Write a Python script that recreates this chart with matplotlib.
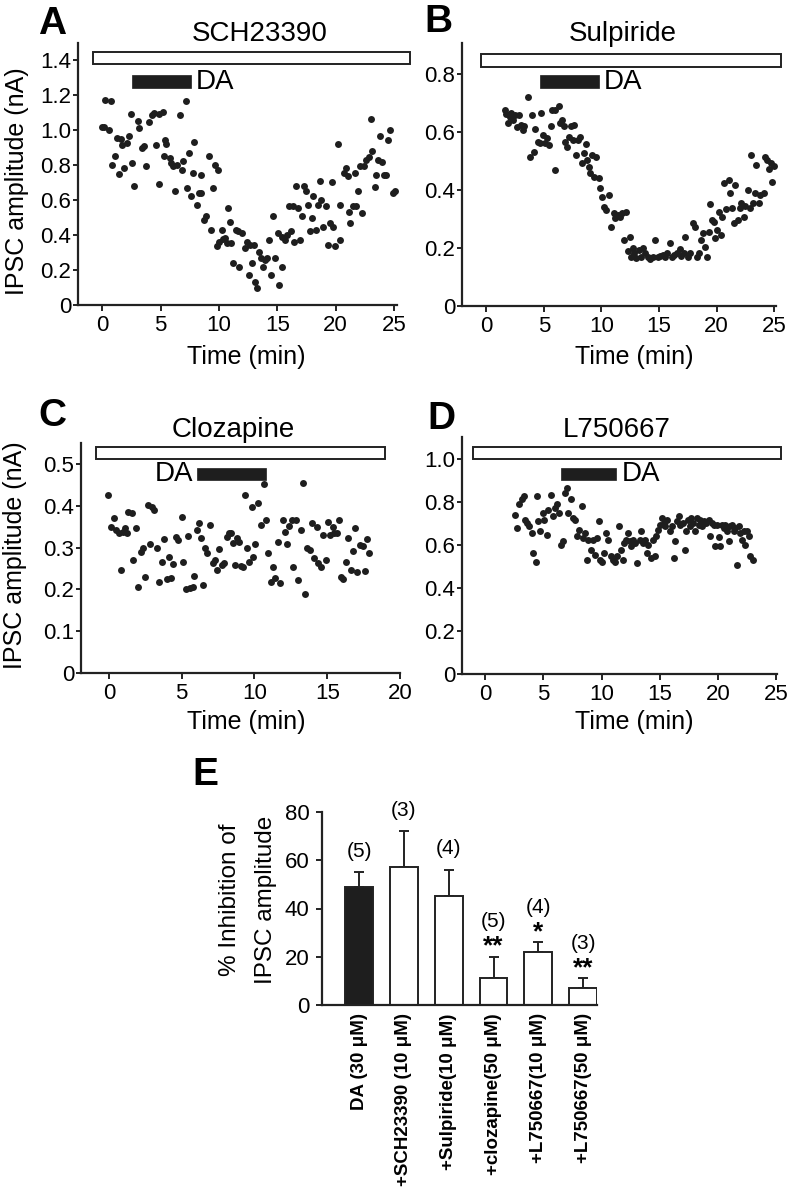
import matplotlib
matplotlib.use("Agg")
import matplotlib.pyplot as plt
from matplotlib.patches import Rectangle

plt.rcParams['font.family'] = ['Liberation Sans', 'DejaVu Sans']

W, H = 791, 1199
DOT = '#1e1e1e'

# ---------------- data ----------------
A_time = [-0.06,0.14,0.26,0.74,0.6,0.86,1.08,1.23,1.43,1.57,1.71,1.88,2.08,2.28,2.45,2.57,2.71,3.03,3.17,3.37,
          3.6,3.71,4.0,4.22,4.45,4.6,4.82,4.88,5.17,5.25,5.39,5.5,5.76,5.88,6.02,6.22,6.36,6.65,6.79,6.88,
          7.13,7.22,7.42,7.62,7.88,7.79,8.08,8.28,8.42,8.5,8.73,8.85,9.16,9.28,9.45,9.65,9.93,9.79,10.02,10.22,
          10.36,10.53,10.65,10.79,10.93,11.07,11.22,11.45,11.59,11.73,11.93,12.22,12.36,12.53,12.79,12.65,12.99,13.07,13.27,13.45,
          13.59,13.79,13.93,14.07,14.27,14.42,14.65,14.79,15.02,15.16,15.36,15.44,15.64,15.79,16.0,16.16,16.3,16.44,16.58,16.78,
          16.93,17.07,17.27,17.44,17.64,17.78,17.93,18.07,18.3,18.5,18.64,18.73,18.93,19.15,19.33,19.5,19.64,19.78,19.93,20.2,
          20.35,20.4,20.7,20.85,21.05,21.13,21.25,21.5,21.63,21.78,21.92,22.12,22.29,22.4,22.62,22.86,23.0,23.14,23.34,23.49,
          23.63,23.83,24.0,24.12,24.34,24.49,24.63,24.91,25.06]
A_amp = [1.017,1.02,1.176,1.167,1.0,0.80,0.855,0.956,0.748,0.95,0.916,0.784,0.928,0.966,1.094,0.813,0.679,1.052,1.015,0.897,
         0.908,0.797,1.048,1.09,1.10,0.914,1.092,0.69,1.103,0.851,0.947,0.922,0.841,0.813,0.797,0.65,0.80,1.086,0.775,0.822,
         1.167,0.669,0.87,0.622,0.935,0.755,0.574,0.64,0.746,0.64,0.488,0.507,0.851,0.43,0.669,0.803,0.771,0.335,0.363,0.43,
         0.377,0.382,0.354,0.555,0.478,0.354,0.239,0.43,0.421,0.22,0.41,0.325,0.363,0.172,0.239,0.344,0.344,0.134,0.096,0.306,
         0.268,0.22,0.258,0.268,0.373,0.172,0.511,0.268,0.411,0.115,0.392,0.22,0.373,0.402,0.568,0.421,0.564,0.358,0.679,0.555,
         0.373,0.507,0.679,0.65,0.574,0.421,0.497,0.622,0.43,0.574,0.708,0.602,0.449,0.564,0.344,0.468,0.702,0.449,0.335,0.924,
         0.574,0.373,0.755,0.784,0.736,0.535,0.468,0.564,0.755,0.564,0.65,0.797,0.526,0.797,0.832,0.847,1.067,0.884,0.673,0.742,
         0.832,0.966,0.817,0.746,0.746,0.943,1.0,0.641,0.65]

B_time = [1.59,1.74,1.85,2.03,2.17,2.31,2.52,2.66,2.86,3.01,3.18,3.3,3.59,3.76,3.96,4.11,4.25,4.46,4.63,4.77,
          4.92,5.06,5.27,5.41,5.61,5.7,5.93,5.99,6.28,6.42,6.57,6.71,6.86,7.0,7.18,7.35,7.49,7.64,7.78,7.93,
          8.1,8.3,8.51,8.62,8.74,8.88,9.03,9.17,9.32,9.55,9.75,9.9,10.07,10.24,10.42,10.62,10.82,11.05,11.2,11.4,
          11.63,11.78,11.98,12.15,12.3,12.44,12.56,12.7,12.85,13.02,13.22,13.43,13.6,13.8,14.0,14.24,14.47,14.67,14.87,15.1,
          15.34,15.54,15.68,15.91,16.12,16.32,16.55,16.78,16.93,17.13,17.27,17.48,17.71,17.94,18.08,18.29,18.49,18.66,18.81,18.95,
          19.16,19.3,19.44,19.59,19.73,19.88,20.02,20.17,20.37,20.49,20.66,20.8,21.04,21.18,21.33,21.47,21.61,21.82,21.99,22.11,
          22.34,22.48,22.69,22.86,22.97,23.15,23.29,23.44,23.64,23.78,24.07,24.22,24.36,24.51,24.71,24.8,24.94]
B_amp = [0.676,0.662,0.632,0.653,0.664,0.641,0.659,0.618,0.659,0.624,0.607,0.621,0.722,0.513,0.659,0.532,0.609,0.567,0.561,0.667,
         0.59,0.561,0.578,0.555,0.621,0.676,0.469,0.676,0.69,0.63,0.641,0.621,0.567,0.549,0.584,0.621,0.572,0.624,0.521,0.572,
         0.584,0.492,0.526,0.559,0.503,0.48,0.457,0.521,0.446,0.515,0.44,0.406,0.377,0.343,0.331,0.383,0.274,0.32,0.302,0.314,
         0.308,0.32,0.228,0.325,0.191,0.239,0.17,0.199,0.182,0.164,0.193,0.168,0.199,0.182,0.17,0.161,0.17,0.228,0.17,0.172,
         0.176,0.17,0.182,0.216,0.168,0.176,0.182,0.195,0.172,0.182,0.239,0.168,0.182,0.287,0.274,0.17,0.182,0.228,0.251,0.205,
         0.17,0.256,0.352,0.297,0.291,0.233,0.262,0.325,0.245,0.308,0.423,0.333,0.434,0.389,0.337,0.285,0.417,0.297,0.337,0.354,
         0.308,0.345,0.4,0.337,0.521,0.354,0.389,0.486,0.354,0.383,0.391,0.515,0.503,0.471,0.492,0.429,0.483]

C_time = [-0.05,0.14,0.34,0.48,0.69,0.8,0.94,1.1,1.21,1.33,1.56,1.67,1.83,2.02,2.18,2.32,2.5,2.66,2.82,2.93,
          3.09,3.28,3.46,3.62,3.78,3.96,4.1,4.26,4.42,4.6,4.76,4.99,5.11,5.29,5.45,5.57,5.75,5.87,6.03,6.21,
          6.32,6.48,6.6,6.76,6.94,7.12,7.28,7.45,7.58,7.74,7.9,8.09,8.27,8.38,8.5,8.66,8.82,8.96,9.05,9.23,
          9.35,9.51,9.65,9.81,9.92,10.03,10.26,10.45,10.65,10.79,10.95,11.11,11.25,11.43,11.59,11.75,11.94,12.1,12.26,12.35,
          12.55,12.67,12.83,13.01,13.17,13.31,13.47,13.63,13.81,13.97,14.11,14.27,14.39,14.57,14.73,14.91,15.07,15.19,15.37,15.49,
          15.69,15.81,15.92,16.11,16.29,16.45,16.61,16.75,16.91,17.07,17.25,17.43,17.59,17.71,17.89]
C_amp = [0.426,0.35,0.37,0.342,0.334,0.246,0.338,0.346,0.335,0.386,0.383,0.27,0.346,0.206,0.29,0.298,0.23,0.402,0.308,0.398,
         0.39,0.298,0.218,0.266,0.32,0.224,0.278,0.228,0.26,0.326,0.318,0.372,0.266,0.202,0.327,0.204,0.206,0.232,0.342,0.359,
         0.322,0.21,0.298,0.286,0.354,0.264,0.27,0.246,0.296,0.258,0.264,0.326,0.334,0.335,0.31,0.258,0.322,0.314,0.256,0.254,
         0.426,0.298,0.266,0.398,0.278,0.308,0.406,0.354,0.453,0.366,0.286,0.218,0.254,0.226,0.314,0.216,0.366,0.338,0.308,0.351,
         0.366,0.254,0.366,0.222,0.342,0.455,0.19,0.298,0.294,0.358,0.274,0.35,0.264,0.254,0.33,0.27,0.362,0.33,0.35,0.334,
         0.335,0.366,0.23,0.224,0.266,0.324,0.246,0.292,0.346,0.242,0.306,0.304,0.244,0.32,0.286]

D_time = [2.55,2.75,2.92,3.12,3.33,3.41,3.56,3.78,3.98,4.13,4.33,4.42,4.56,4.7,4.93,5.05,5.28,5.42,5.62,5.79,
          5.99,6.14,6.36,6.48,6.65,6.85,7.0,7.14,7.34,7.51,7.71,7.86,8.08,8.29,8.43,8.57,8.72,8.86,9.06,9.23,
          9.43,9.58,9.78,9.86,10.06,10.21,10.38,10.58,10.78,10.95,11.15,11.3,11.5,11.67,11.81,11.93,12.1,12.24,12.39,12.53,
          12.67,12.87,13.07,13.25,13.36,13.53,13.73,13.88,14.02,14.22,14.39,14.54,14.68,14.88,15.02,15.17,15.31,15.45,15.6,15.83,
          16.03,16.17,16.31,16.46,16.6,16.74,16.97,17.12,17.26,17.4,17.55,17.69,17.83,18.03,18.18,18.32,18.46,18.61,18.81,18.98,
          19.18,19.32,19.47,19.61,19.75,19.9,20.04,20.18,20.33,20.47,20.61,20.76,20.9,21.04,21.19,21.33,21.47,21.62,21.76,21.9,
          22.05,22.19,22.33,22.48,22.62,22.76,22.96]
D_amp = [0.74,0.678,0.787,0.81,0.825,0.716,0.70,0.685,0.654,0.561,0.522,0.825,0.709,0.662,0.747,0.716,0.647,0.763,0.833,0.732,
         0.771,0.787,0.747,0.6,0.616,0.84,0.864,0.747,0.81,0.724,0.716,0.64,0.67,0.781,0.632,0.654,0.53,0.623,0.577,0.623,
         0.553,0.631,0.709,0.53,0.522,0.561,0.654,0.623,0.546,0.53,0.522,0.546,0.685,0.577,0.53,0.608,0.623,0.654,0.616,0.592,
         0.623,0.608,0.515,0.623,0.662,0.608,0.623,0.561,0.6,0.538,0.623,0.546,0.64,0.67,0.693,0.724,0.70,0.685,0.716,0.662,
         0.685,0.538,0.616,0.711,0.732,0.693,0.70,0.577,0.662,0.716,0.685,0.724,0.70,0.662,0.724,0.693,0.716,0.685,0.711,0.70,
         0.716,0.64,0.70,0.693,0.592,0.693,0.638,0.592,0.693,0.678,0.693,0.662,0.616,0.685,0.693,0.662,0.678,0.507,0.685,0.654,
         0.623,0.662,0.6,0.662,0.64,0.546,0.53]

# drug application periods (min)
A_drug, A_da = (-0.83, 26.4), (2.57, 7.59)
B_drug, B_da = (-0.46, 25.6), (4.69, 9.75)
C_drug, C_da = (-0.92, 19.0), (6.03, 10.77)
D_drug, D_da = (-1.09, 25.4), (6.51, 11.24)

A_yticks = [0, 0.2, 0.4, 0.6, 0.8, 1.0, 1.2, 1.4]
A_ylabels = ['0', '0.2', '0.4', '0.6', '0.8', '1.0', '1.2', '1.4']
B_yticks = [0, 0.2, 0.4, 0.6, 0.8]
B_ylabels = ['0', '0.2', '0.4', '0.6', '0.8']
C_yticks = [0, 0.1, 0.2, 0.3, 0.4, 0.5]
C_ylabels = ['0', '0.1', '0.2', '0.3', '0.4', '0.5']
D_yticks = [0, 0.2, 0.4, 0.6, 0.8, 1.0]
D_ylabels = ['0', '0.2', '0.4', '0.6', '0.8', '1.0']
AB_xticks = [0, 5, 10, 15, 20, 25]
C_xticks = [0, 5, 10, 15, 20]

E_labels = ['DA (30 \u03bcM)', '+SCH23390 (10 \u03bcM)', '+Sulpiride(10 \u03bcM)',
            '+clozapine(50 \u03bcM)', '+L750667(10 \u03bcM)', '+L750667(50 \u03bcM)']
E_mean = [49, 57, 45, 11, 22, 7]
E_err = [6, 15, 11, 9, 4, 4]
E_n = ['(5)', '(3)', '(4)', '(5)', '(4)', '(3)']
E_sig = ['', '', '', '**', '*', '**']
E_colors = ['#1e1e1e', 'white', 'white', 'white', 'white', 'white']

# ---------------- figure ----------------
fig = plt.figure(figsize=(W / 100, H / 100), dpi=100)


def rect(l, t, r, b):
    return [l / W, 1 - b / H, (r - l) / W, (b - t) / H]


def style(ax):
    for s in ('top', 'right'):
        ax.spines[s].set_visible(False)
    for s in ('left', 'bottom'):
        ax.spines[s].set_linewidth(1.6)
        ax.spines[s].set_color('#222222')
    ax.tick_params(axis='both', direction='out', width=1.4, color='#222222', labelsize=16)
    ax.tick_params(axis='y', length=3.5, pad=1.5)
    ax.tick_params(axis='x', length=4, pad=3)


def panel(r, t, a, xlim, ylim, yt, ytl, xt, drug, da, bar_y, da_y, da_left):
    ax = fig.add_axes(rect(*r))
    style(ax)
    ax.scatter(t, a, s=25, color=DOT, linewidths=0, zorder=3, clip_on=False)
    ax.set_xlim(*xlim)
    ax.set_ylim(*ylim)
    ax.set_yticks(yt)
    ax.set_yticklabels(ytl)
    ax.set_xticks(xt)
    ax.add_patch(Rectangle((drug[0], bar_y[0]), drug[1] - drug[0], bar_y[1] - bar_y[0],
                           facecolor='white', edgecolor='#222222', lw=1.4, clip_on=False, zorder=2))
    ax.add_patch(Rectangle((da[0], da_y[0]), da[1] - da[0], da_y[1] - da_y[0],
                           facecolor='#1e1e1e', edgecolor='#1e1e1e', lw=0.5, clip_on=False, zorder=2))
    ym = (da_y[0] + da_y[1]) / 2
    if da_left:
        ax.text(da[0] - 0.25, ym, 'DA', ha='right', va='center', fontsize=20, clip_on=False)
    else:
        ax.text(da[1] + 0.45, ym, 'DA', ha='left', va='center', fontsize=20, clip_on=False)
    return ax


axA = panel((78, 43, 397, 305), A_time, A_amp, (-2.08, 25.25), (0, 1.5), A_yticks, A_ylabels, AB_xticks,
            A_drug, A_da, (1.38, 1.45), (1.243, 1.314), False)
axB = panel((462, 43, 776, 306), B_time, B_amp, (-2.1, 25.15), (0, 0.907), B_yticks, B_ylabels, AB_xticks,
            B_drug, B_da, (0.825, 0.868), (0.751, 0.797), False)
axC = panel((81, 443, 400, 673), C_time, C_amp, (-1.92, 20.0), (0, 0.55), C_yticks, C_ylabels, C_xticks,
            C_drug, C_da, (0.511, 0.540), (0.462, 0.49), True)
axD = panel((462, 437, 777, 674), D_time, D_amp, (-2.0, 25.06), (0, 1.1), D_yticks, D_ylabels, AB_xticks,
            D_drug, D_da, (1.0, 1.054), (0.899, 0.957), False)


def ftext(x, y, s, **kw):
    fig.text(x / W, 1 - y / H, s, **kw)


# panel letters
for (x, y, s) in [(38, 6, 'A'), (424, 4, 'B'), (38, 398, 'C'), (427, 401, 'D'), (192, 757, 'E')]:
    ftext(x, y, s, fontsize=28, fontweight='bold', ha='left', va='top')

# titles
for (x, y, s) in [(260, 34, 'SCH23390'), (623, 34, 'Sulpiride'), (233, 430, 'Clozapine'), (617, 430, 'L750667')]:
    ftext(x, y, s, fontsize=20, ha='center', va='center')

# axis labels
for (x, y) in [(246, 357), (634, 357), (246, 722), (634, 722)]:
    ftext(x, y, 'Time (min)', fontsize=18, ha='center', va='center')
for (x, y) in [(17, 181), (15, 555)]:
    ftext(x, y, 'IPSC amplitude (nA)', fontsize=18, ha='center', va='center', rotation=90)

# ---------------- panel E ----------------
axE = fig.add_axes(rect(322, 812, 597, 1005))
style(axE)
xs = list(range(len(E_mean)))
axE.bar(xs, E_mean, width=0.62, color=E_colors, edgecolor='#222222', linewidth=1.4, zorder=2)
axE.errorbar(xs, E_mean, yerr=[[0] * len(E_err), E_err], fmt='none', ecolor='#222222',
             elinewidth=1.4, capsize=3.5, capthick=1.4, zorder=1)
axE.set_xlim(-0.83, 5.31)
axE.set_ylim(0, 80)
axE.set_yticks([0, 20, 40, 60, 80])
axE.tick_params(axis='y', length=4, pad=5)
axE.set_xticks(xs)
axE.set_xticklabels(E_labels, rotation=90, fontsize=13.5, fontweight='bold', va='top')
axE.tick_params(axis='x', length=0, pad=6)
for x, m, e, n, sg in zip(xs, E_mean, E_err, E_n, E_sig):
    top = m + e
    if sg:
        axE.annotate(sg, (x, top), xytext=(0, 10), textcoords='offset pixels', ha='center', va='center',
                     fontsize=19, fontweight='bold', annotation_clip=False)
        axE.annotate(n, (x, top), xytext=(0, 35), textcoords='offset pixels', ha='center', va='center',
                     fontsize=15, annotation_clip=False)
    else:
        axE.annotate(n, (x, top), xytext=(0, 21), textcoords='offset pixels', ha='center', va='center',
                     fontsize=15, annotation_clip=False)

ftext(230, 900, '% Inhibition of', fontsize=17.5, ha='center', va='center', rotation=90)
ftext(266, 900, 'IPSC amplitude', fontsize=17.5, ha='center', va='center', rotation=90)

fig.savefig('out.png', dpi=100, facecolor='white')
